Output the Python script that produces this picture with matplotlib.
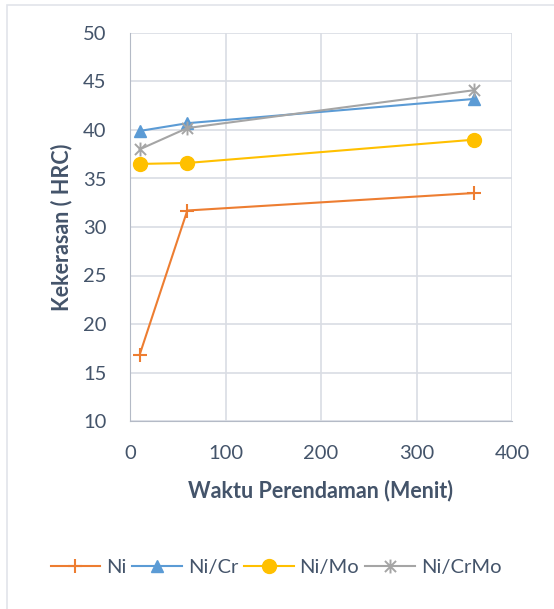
import matplotlib
matplotlib.use("Agg")
import matplotlib.pyplot as plt
from matplotlib.patches import Rectangle
from matplotlib.path import Path

plt.rcParams['font.family'] = ['Lato', 'DejaVu Sans']

x_vals = [10, 60, 360]
ni = [16.8, 31.7, 33.5]
ni_cr = [39.9, 40.7, 43.2]
ni_mo = [36.5, 36.6, 39.0]
ni_crmo = [38.0, 40.2, 44.1]
series_names = ["Ni", "Ni/Cr", "Ni/Mo", "Ni/CrMo"]
x_ticks = [0, 100, 200, 300, 400]
y_ticks = [10, 15, 20, 25, 30, 35, 40, 45, 50]
x_label = "Waktu Perendaman (Menit)"
y_label = "Kekerasan ( HRC)"

text_color = "#44546A"
grid_color = "#D9DDE4"

# Excel-like star marker: x plus vertical bar
star = Path([(-1, -1), (1, 1), (-1, 1), (1, -1), (0, -1.25), (0, 1.25)],
            [Path.MOVETO, Path.LINETO, Path.MOVETO, Path.LINETO, Path.MOVETO, Path.LINETO])

fig = plt.figure(figsize=(5.54, 6.09), dpi=100)
# outer chart frame
fig.patches.append(Rectangle((7/554, -0.05), 1.2, 1 - 5/609 + 0.05, transform=fig.transFigure,
                             fill=False, edgecolor="#E1E4EA", linewidth=1.2))

ax = fig.add_axes([130/554, 1 - 421/609, (512 - 130)/554, (421 - 33)/609])

ax.plot(x_vals, ni, color="#ED7D31", lw=1.5, marker="+", ms=10, mew=1.5, label=series_names[0])
ax.plot(x_vals, ni_cr, color="#5B9BD5", lw=1.5, marker="^", ms=9, label=series_names[1])
ax.plot(x_vals, ni_mo, color="#FFC000", lw=1.5, marker="o", ms=10, label=series_names[2])
ax.plot(x_vals, ni_crmo, color="#A5A5A5", lw=1.5, marker=star, ms=10, mew=1.4,
        mfc="none", mec="#A5A5A5", label=series_names[3])

ax.set_xlim(0, 400)
ax.set_ylim(10, 50)
ax.set_xticks(x_ticks)
ax.set_yticks(y_ticks)
ax.grid(True, color=grid_color, lw=1.2)
ax.set_axisbelow(True)
for s in ["top", "right"]:
    ax.spines[s].set_visible(False)
ax.spines["left"].set_color("#B4BAC6")
ax.spines["bottom"].set_color("#B4BAC6")
ax.tick_params(length=0, labelsize=14.5, colors=text_color)
ax.tick_params(axis='x', pad=17)
ax.tick_params(axis='y', pad=17)

ax.set_xlabel(x_label, fontsize=15.5, fontweight="bold", color=text_color)
ax.set_ylabel(y_label, fontsize=15.5, fontweight="bold", color=text_color)
ax.xaxis.set_label_coords(0.5, -0.152)
ax.yaxis.set_label_coords(-0.152, 0.5)

handles, labels = ax.get_legend_handles_labels()
fig.legend(handles, labels, loc="center", bbox_to_anchor=(0.498, 1 - 567/609), ncol=4,
           frameon=False, fontsize=14.5, labelcolor=text_color, handlelength=2.45,
           handletextpad=0.3, columnspacing=0.3)

fig.savefig("out.png", dpi=100)
